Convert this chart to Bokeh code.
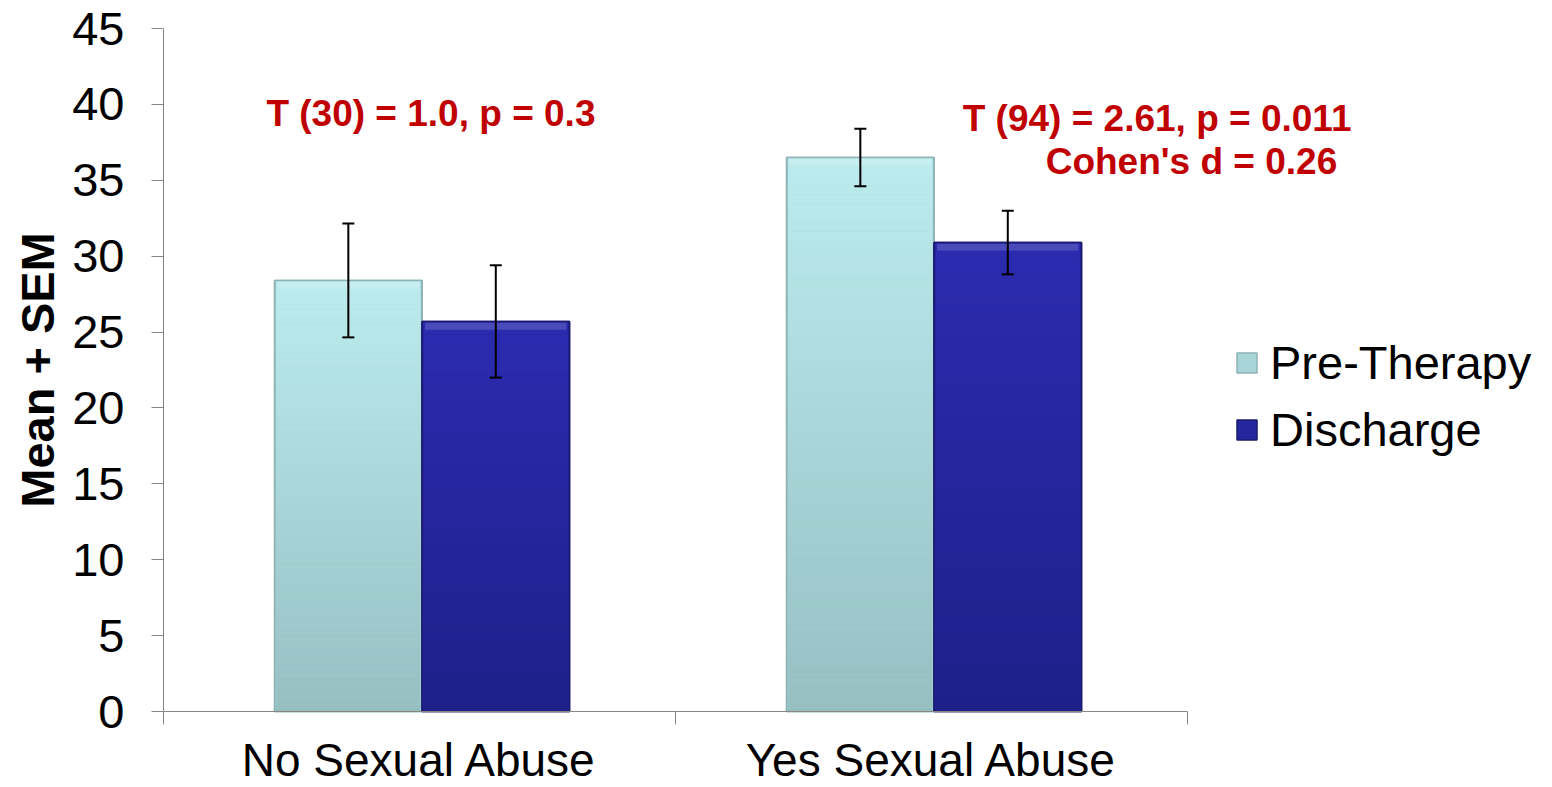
import math
from bokeh.plotting import figure
from bokeh.models import (Range1d, FixedTicker, Whisker, TeeHead, ColumnDataSource,
                          Legend, LegendItem, Label, LinearAxis)
from bokeh.embed import file_html
from bokeh.resources import INLINE

# ---- data ----
categories = ["No Sexual Abuse", "Yes Sexual Abuse"]
series = ["Pre-Therapy", "Discharge"]
pre_mean = [28.4, 36.5]
pre_sem = [3.75, 1.9]
dis_mean = [25.7, 30.9]
dis_sem = [3.7, 2.1]
y_ticks = [0, 5, 10, 15, 20, 25, 30, 35, 40, 45]
y_title = "Mean + SEM"
stat_line_no = "T (30) = 1.0, p = 0.3"
stat_line_yes_1 = "T (94) = 2.61, p = 0.011"
stat_line_yes_2 = "Cohen's d = 0.26"

FONT = "Liberation Sans"
RED = "#C00000"
X_END = 2.0
Y_MAX = 45

# layout: plot area occupies px 163..1187 (x) and 28..711 (y) of a 1552x787 canvas;
# the frame covers the whole canvas so that nothing is clipped, axes sit at x=0 / y=0.
W, H = 1552, 787
PX_X = 512.0           # px per x unit
PX_Y = 683.0 / Y_MAX   # px per y unit
x_view = (-163 / PX_X, (W - 163) / PX_X)
y_view = (-(H - 711) / PX_Y, Y_MAX + 28 / PX_Y)

p = figure(width=W, height=H, output_backend="svg", toolbar_location=None,
           x_range=Range1d(*x_view), y_range=Range1d(*y_view),
           min_border_left=0, min_border_right=0, min_border_top=0, min_border_bottom=0,
           x_axis_type=None, y_axis_type=None)
p.grid.visible = False
p.outline_line_color = None
p.background_fill_color = "white"
p.border_fill_color = "white"

# axes
yaxis = LinearAxis(ticker=FixedTicker(ticks=y_ticks), bounds=(0, Y_MAX), fixed_location=0)
yaxis.axis_line_color = "#868686"
yaxis.major_tick_line_color = "#868686"
yaxis.major_tick_out = 12
yaxis.major_tick_in = 0
yaxis.minor_tick_line_color = None
yaxis.major_label_text_font = FONT
yaxis.major_label_text_font_size = "47px"
yaxis.major_label_text_color = "black"
yaxis.major_label_standoff = 27
p.add_layout(yaxis, "left")

centers = [i + 0.5 for i in range(len(categories))]
xaxis = LinearAxis(ticker=FixedTicker(ticks=centers, minor_ticks=[0, 1, 2]),
                   bounds=(0, X_END), fixed_location=0)
xaxis.major_label_overrides = {c: name for c, name in zip(centers, categories)}
xaxis.axis_line_color = "#868686"
xaxis.major_tick_line_color = None
xaxis.major_tick_out = 0
xaxis.major_tick_in = 0
xaxis.minor_tick_line_color = "#868686"
xaxis.minor_tick_out = 13
xaxis.minor_tick_in = 0
xaxis.major_label_text_font = FONT
xaxis.major_label_text_font_size = "46px"
xaxis.major_label_text_color = "black"
xaxis.major_label_standoff = 9
p.add_layout(xaxis, "below")

# y axis title (centred on the 0..45 span)
p.add_layout(Label(x=-(163 - 37) / PX_X, y=Y_MAX / 2, text=y_title, angle=math.pi / 2,
                   text_font=FONT, text_font_size="47px", text_font_style="bold",
                   text_color="black", text_align="center", text_baseline="middle"))

half = 0.144
group_shift = 0.005
offsets = [-half + group_shift, half + group_shift]
styles = [
    dict(top="#BCECEF", bottom="#96BFC2", border="#8DB3B6", mid="#A9D5D8"),
    dict(top="#2B2BB0", bottom="#1F1F8A", border="#1A1A6E", mid="#25259E"),
]


def lerp(c1, c2, t):
    a = [int(c1[i:i + 2], 16) for i in (1, 3, 5)]
    b = [int(c2[i:i + 2], 16) for i in (1, 3, 5)]
    return "#%02x%02x%02x" % tuple(round(a[k] + (b[k] - a[k]) * t) for k in range(3))


legend_items = []
for s_idx, (name, means, sems) in enumerate([(series[0], pre_mean, pre_sem),
                                             (series[1], dis_mean, dis_sem)]):
    st = styles[s_idx]
    xs = [c + offsets[s_idx] for c in centers]
    base = p.quad(left=[x - half for x in xs], right=[x + half for x in xs],
                  bottom=0, top=means, fill_color=st["mid"], line_color=st["border"], line_width=1.5)
    legend_items.append(LegendItem(label=name, renderers=[base]))
    # vertical gradient slices (per bar, top light -> bottom dark)
    N = 60
    L, R, B, T, C = [], [], [], [], []
    for x, m in zip(xs, means):
        for k in range(N):
            t0 = k / N
            t1 = (k + 1) / N
            L.append(x - half + 0.003)
            R.append(x + half - 0.003)
            T.append(m * (1 - t0))
            B.append(m * (1 - t1))
            C.append(lerp(st["top"], st["bottom"], (k + 0.5) / N))
    p.quad(left=L, right=R, bottom=B, top=T, fill_color=C, line_color=None)
    # top bevel highlight
    p.quad(left=[x - half + 0.006 for x in xs], right=[x + half - 0.006 for x in xs],
           bottom=[m - 0.55 for m in means], top=[m - 0.08 for m in means],
           fill_color="white", fill_alpha=0.15, line_color=None)
    p.quad(left=[x - half for x in xs], right=[x + half for x in xs],
           bottom=0, top=means, fill_color=None, line_color=st["border"], line_width=1.5)
    # error bars
    src = ColumnDataSource(dict(x=xs, lower=[m - s for m, s in zip(means, sems)],
                                upper=[m + s for m, s in zip(means, sems)]))
    w = Whisker(base="x", lower="lower", upper="upper", source=src, dimension="height",
                line_color="black", line_width=2, level="overlay",
                upper_head=TeeHead(size=12, line_color="black", line_width=2),
                lower_head=TeeHead(size=12, line_color="black", line_width=2))
    p.add_layout(w)

legend = Legend(items=legend_items, location=(1234, 330), orientation="vertical",
                label_text_font=FONT, label_text_font_size="47px", label_text_color="black",
                glyph_width=25, glyph_height=25, label_standoff=11, spacing=12,
                padding=0, margin=0, border_line_color=None, background_fill_alpha=0)
p.add_layout(legend, "center")

for txt, x, y in [(stat_line_no, 0.201, 39.4), (stat_line_yes_1, 1.561, 39.07),
                  (stat_line_yes_2, 1.723, 36.23)]:
    p.add_layout(Label(x=x, y=y, text=txt, text_font=FONT, text_font_size="37px",
                       text_font_style="bold", text_color=RED, text_baseline="middle",
                       text_align="left"))

open("out.html", "w").write(file_html(p, INLINE))
